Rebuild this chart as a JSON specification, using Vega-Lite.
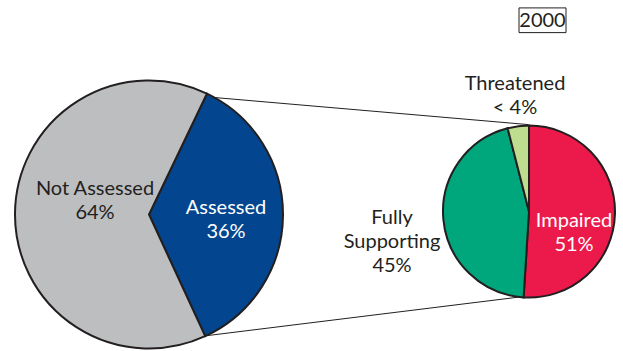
{
  "$schema": "https://vega.github.io/schema/vega-lite/v6.json",
  "width": 623,
  "height": 351,
  "autosize": {"type": "fit", "contains": "padding"},
  "padding": 0,
  "background": "white",
  "config": {"view": {"stroke": null}, "text": {"font": "Lato", "fontSize": 20, "lineBreak": "\n", "lineHeight": 24}},
  "datasets": {
    "left": [
      {"category": "Assessed", "value": 36, "label": "Assessed\n36%"},
      {"category": "Not Assessed", "value": 64, "label": "Not Assessed\n64%"}
    ],
    "right": [
      {"category": "Impaired", "value": 51, "label": "Impaired\n51%"},
      {"category": "Fully Supporting", "value": 45, "label": "Fully\nSupporting\n45%"},
      {"category": "Threatened", "value": 4, "label": "Threatened\n< 4%"}
    ],
    "one": [{}]
  },
  "encoding": {},
  "layer": [
    {
      "data": {"name": "one"},
      "mark": {"type": "rule", "color": "#231f20", "strokeWidth": 1},
      "encoding": {
        "x": {"datum": 207, "type": "quantitative", "scale": {"domain": [0, 623], "nice": false, "zero": false}, "axis": null},
        "y": {"datum": 98, "type": "quantitative", "scale": {"domain": [0, 351], "nice": false, "zero": false, "reverse": true}, "axis": null},
        "x2": {"datum": 528},
        "y2": {"datum": 126}
      }
    },
    {
      "data": {"name": "one"},
      "mark": {"type": "rule", "color": "#231f20", "strokeWidth": 1},
      "encoding": {
        "x": {"datum": 203, "type": "quantitative", "scale": {"domain": [0, 623], "nice": false, "zero": false}, "axis": null},
        "y": {"datum": 340, "type": "quantitative", "scale": {"domain": [0, 351], "nice": false, "zero": false, "reverse": true}, "axis": null},
        "x2": {"datum": 523},
        "y2": {"datum": 300}
      }
    },
    {
      "data": {"name": "left"},
      "mark": {"type": "arc", "outerRadius": 134, "stroke": "#231f20", "strokeWidth": 2},
      "encoding": {
        "x": {"datum": 149, "type": "quantitative", "scale": {"domain": [0, 623], "nice": false, "zero": false}, "axis": null},
        "y": {"datum": 217, "type": "quantitative", "scale": {"domain": [0, 351], "nice": false, "zero": false, "reverse": true}, "axis": null},
        "theta": {"field": "value", "type": "quantitative", "stack": true, "scale": {"range": [0.447, 6.730]}},
        "order": {"field": "value", "sort": "ascending"},
        "color": {
          "field": "category", "type": "nominal", "legend": null,
          "scale": {
            "domain": ["Assessed", "Not Assessed", "Impaired", "Fully Supporting", "Threatened"],
            "range": ["#03468f", "#bcbec0", "#ec1a4a", "#00a67c", "#bedd8e"]
          }
        }
      }
    },
    {
      "data": {"name": "right"},
      "mark": {"type": "arc", "outerRadius": 86, "stroke": "#231f20", "strokeWidth": 2},
      "encoding": {
        "x": {"datum": 529, "type": "quantitative", "scale": {"domain": [0, 623], "nice": false, "zero": false}, "axis": null},
        "y": {"datum": 214, "type": "quantitative", "scale": {"domain": [0, 351], "nice": false, "zero": false, "reverse": true}, "axis": null},
        "theta": {"field": "value", "type": "quantitative", "stack": true, "scale": {"range": [0, 6.2832]}},
        "order": {"field": "value", "sort": "descending"},
        "color": {"field": "category", "type": "nominal", "legend": null}
      }
    },
    {
      "data": {"name": "left"},
      "transform": [{"filter": "datum.category == 'Not Assessed'"}],
      "mark": {"type": "text", "color": "#231f20", "align": "center", "baseline": "middle"},
      "encoding": {
        "x": {"datum": 95, "type": "quantitative", "scale": {"domain": [0, 623], "nice": false, "zero": false}, "axis": null},
        "y": {"datum": 191.5, "type": "quantitative", "scale": {"domain": [0, 351], "nice": false, "zero": false, "reverse": true}, "axis": null},
        "text": {"field": "label", "type": "nominal"}
      }
    },
    {
      "data": {"name": "left"},
      "transform": [{"filter": "datum.category == 'Assessed'"}],
      "mark": {"type": "text", "color": "white", "align": "center", "baseline": "middle"},
      "encoding": {
        "x": {"datum": 226, "type": "quantitative", "scale": {"domain": [0, 623], "nice": false, "zero": false}, "axis": null},
        "y": {"datum": 210, "type": "quantitative", "scale": {"domain": [0, 351], "nice": false, "zero": false, "reverse": true}, "axis": null},
        "text": {"field": "label", "type": "nominal"}
      }
    },
    {
      "data": {"name": "right"},
      "transform": [{"filter": "datum.category == 'Impaired'"}],
      "mark": {"type": "text", "color": "white", "align": "center", "baseline": "middle"},
      "encoding": {
        "x": {"datum": 574, "type": "quantitative", "scale": {"domain": [0, 623], "nice": false, "zero": false}, "axis": null},
        "y": {"datum": 223.5, "type": "quantitative", "scale": {"domain": [0, 351], "nice": false, "zero": false, "reverse": true}, "axis": null},
        "text": {"field": "label", "type": "nominal"}
      }
    },
    {
      "data": {"name": "right"},
      "transform": [{"filter": "datum.category == 'Fully Supporting'"}],
      "mark": {"type": "text", "color": "#231f20", "align": "center", "baseline": "middle"},
      "encoding": {
        "x": {"datum": 392, "type": "quantitative", "scale": {"domain": [0, 623], "nice": false, "zero": false}, "axis": null},
        "y": {"datum": 221, "type": "quantitative", "scale": {"domain": [0, 351], "nice": false, "zero": false, "reverse": true}, "axis": null},
        "text": {"field": "label", "type": "nominal"}
      }
    },
    {
      "data": {"name": "right"},
      "transform": [{"filter": "datum.category == 'Threatened'"}],
      "mark": {"type": "text", "color": "#231f20", "align": "center", "baseline": "middle"},
      "encoding": {
        "x": {"datum": 515, "type": "quantitative", "scale": {"domain": [0, 623], "nice": false, "zero": false}, "axis": null},
        "y": {"datum": 85, "type": "quantitative", "scale": {"domain": [0, 351], "nice": false, "zero": false, "reverse": true}, "axis": null},
        "text": {"field": "label", "type": "nominal"}
      }
    },
    {
      "data": {"name": "one"},
      "mark": {"type": "rect", "fill": "white", "stroke": "#231f20", "strokeWidth": 1},
      "encoding": {
        "x": {"datum": 519, "type": "quantitative", "scale": {"domain": [0, 623], "nice": false, "zero": false}, "axis": null},
        "x2": {"datum": 566},
        "y": {"datum": 8, "type": "quantitative", "scale": {"domain": [0, 351], "nice": false, "zero": false, "reverse": true}, "axis": null},
        "y2": {"datum": 33}
      }
    },
    {
      "data": {"name": "one"},
      "mark": {"type": "text", "text": "2000", "color": "#231f20", "align": "center", "baseline": "middle"},
      "encoding": {
        "x": {"datum": 542.5, "type": "quantitative", "scale": {"domain": [0, 623], "nice": false, "zero": false}, "axis": null},
        "y": {"datum": 21, "type": "quantitative", "scale": {"domain": [0, 351], "nice": false, "zero": false, "reverse": true}, "axis": null}
      }
    }
  ],
  "resolve": {"scale": {"theta": "independent"}}
}
